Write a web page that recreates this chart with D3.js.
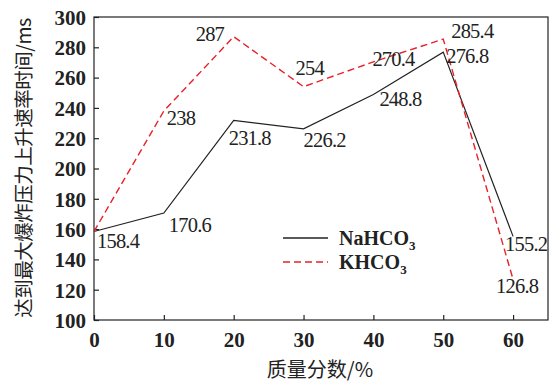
<!DOCTYPE html>
<html><head><meta charset="utf-8">
<script src="https://cdn.jsdelivr.net/npm/d3@7"></script>
<style>body{margin:0;background:#fff}svg{display:block}</style>
</head><body>
<svg id="c" width="552" height="384"></svg>
<script>
const massFraction = [0, 10, 20, 30, 40, 50, 60];
const naValues = [158.4, 170.6, 231.8, 226.2, 248.8, 276.8, 155.2];
const kValues = [158.4, 238, 287, 254, 270.4, 285.4, 126.8];
const xTicks = [0, 10, 20, 30, 40, 50, 60];
const yTicks = [100, 120, 140, 160, 180, 200, 220, 240, 260, 280, 300];
const naLabels = ["158.4", "170.6", "231.8", "226.2", "248.8", "276.8", "155.2"];
const kLabels = ["", "238", "287", "254", "270.4", "285.4", "126.8"];

// label layout offsets (pixels from point)
const naOff = [[3,16],[5,19],[-5,25],[0,18],[6,11],[3,11],[-8,15]];
const kOff = [[0,0],[3,14],[-38,4],[-8,-12],[-1,4],[8,-1],[-17,14]];

const svg = d3.select("#c");
const L = 94, R = 548, T = 17, B = 320;
const x = d3.scaleLinear().domain([0, 65]).range([L, R]);
const y = d3.scaleLinear().domain([100, 300]).range([B, T]);
const serif = "'Liberation Serif','Times New Roman',serif";

// frame
svg.append("rect").attr("x", L).attr("y", T).attr("width", R - L).attr("height", B - T)
  .attr("fill", "none").attr("stroke", "#222").attr("stroke-width", 1.2);

const xa = svg.append("g").attr("transform", `translate(0,${B})`)
  .call(d3.axisBottom(x).tickValues(xTicks).tickSizeInner(-5).tickSizeOuter(0).tickPadding(12));
const ya = svg.append("g").attr("transform", `translate(${L},0)`)
  .call(d3.axisLeft(y).tickValues(yTicks).tickSizeInner(-5).tickSizeOuter(0).tickPadding(8));
[xa, ya].forEach(g => {
  g.select(".domain").remove();
  g.selectAll("line").attr("stroke", "#222").attr("stroke-width", 1.2);
  g.selectAll("text").attr("font-family", serif).attr("font-weight", "bold")
    .attr("font-size", 21).attr("fill", "#222");
});
ya.selectAll(".tick text").attr("dy", "0.35em");

const line = d3.line().x((d, i) => x(massFraction[i])).y(d => y(d));
svg.append("path").datum(naValues).attr("d", line).attr("fill", "none")
  .attr("stroke", "#222").attr("stroke-width", 1.2);
svg.append("path").datum(kValues).attr("d", line).attr("fill", "none")
  .attr("stroke", "#e8202a").attr("stroke-width", 1.4).attr("stroke-dasharray", "7,4");

function labels(vals, texts, off) {
  svg.append("g").selectAll("text").data(vals).join("text")
    .attr("x", (d, i) => x(massFraction[i]) + off[i][0])
    .attr("y", (d, i) => y(d) + off[i][1])
    .attr("font-family", serif).attr("font-size", 20.5).attr("fill", "#222")
    .attr("letter-spacing", -0.8)
    .text((d, i) => texts[i]);
}
labels(naValues, naLabels, naOff);
labels(kValues, kLabels, kOff);

// legend
const leg = [{name: "NaHCO", color: "#222", dash: null}, {name: "KHCO", color: "#e8202a", dash: "7,4"}];
leg.forEach((d, i) => {
  const yy = 238 + i * 24;
  svg.append("line").attr("x1", 283).attr("x2", 328).attr("y1", yy).attr("y2", yy)
    .attr("stroke", d.color).attr("stroke-width", 1.3).attr("stroke-dasharray", d.dash);
  const t = svg.append("text").attr("x", 339).attr("y", yy + 7)
    .attr("font-family", serif).attr("font-weight", "bold").attr("font-size", 20).attr("fill", "#222");
  t.append("tspan").text(d.name);
  t.append("tspan").attr("font-size", 13).attr("dy", 5).text("3");
});

// axis titles
svg.append("text").attr("x", 320).attr("y", 377).attr("text-anchor", "middle")
  .attr("font-family", "'Noto Sans CJK SC',sans-serif").attr("font-size", 20).attr("fill", "#222")
  .text("质量分数/%");
svg.append("text").attr("transform", "translate(31,168) rotate(-90)").attr("text-anchor", "middle")
  .attr("font-family", "'Noto Sans CJK SC',sans-serif").attr("font-size", 19.5).attr("fill", "#222")
  .attr("letter-spacing", -0.5)
  .text("达到最大爆炸压力上升速率时间/ms");
</script>
</body></html>
